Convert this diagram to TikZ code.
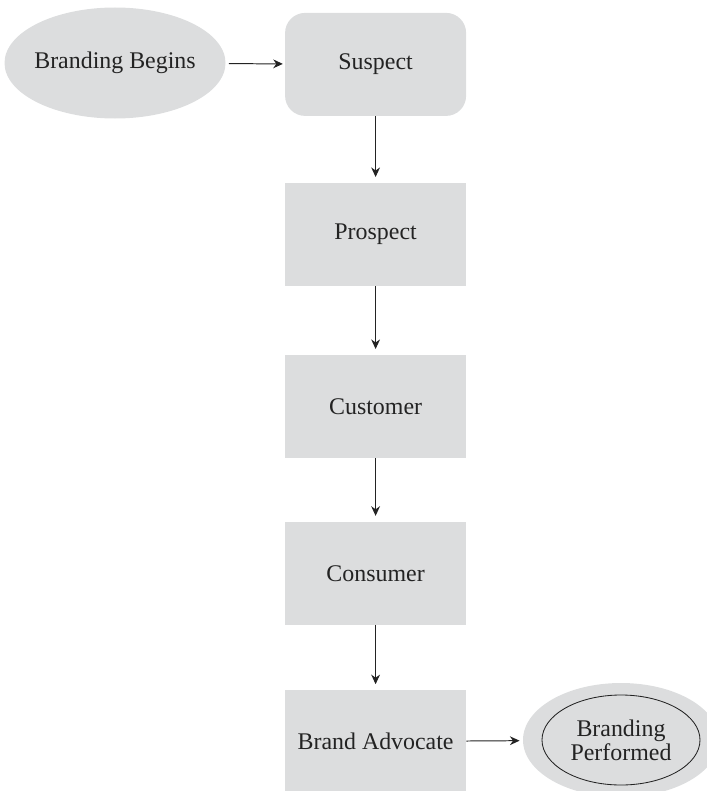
\documentclass[tikz,border=0pt]{standalone}
\usepackage{fontspec}
\setmainfont{Liberation Serif}
\usetikzlibrary{shapes.geometric, arrows.meta}
\definecolor{boxgray}{RGB}{220,221,222}
\definecolor{inkgray}{RGB}{35,35,35}
\tikzset{
    every node/.style={fill=boxgray, text=inkgray, align=center,
    	font=\fontsize{17}{17}\selectfont},
    stage/.style={rectangle, minimum width=4.525cm, minimum height=2.575cm},
    flow/.style={draw=inkgray, line width=0.7pt,
    	-{Stealth[length=2.4mm, width=2.2mm]}}
}

\begin{document}
\begin{tikzpicture}
  \useasboundingbox (0cm, 0cm) rectangle (17.675cm, -19.775cm);
  \node (begins) [ellipse, minimum width=5.525cm, minimum height=2.775cm, label=center:{Branding Begins}] at (2.875cm, -1.575cm) {};
  \node (suspect) [stage, rounded corners=0.5cm] at (9.39cm, -1.61cm) {Suspect};
  \node (prospect) [stage] at (9.39cm, -5.86cm) {Prospect};
  \node (customer) [stage] at (9.39cm, -10.16cm) {Customer};
  \node (consumer) [stage] at (9.39cm, -14.33cm) {Consumer};
  \node (advocate) [stage] at (9.39cm, -18.54cm) {Brand Advocate};
  \node (performed) [ellipse, minimum width=4.9cm, minimum height=2.85cm] at (15.525cm, -18.5cm) {};
  \node (performed_in) [ellipse, draw=inkgray, line width=0.6pt, minimum width=3.95cm, minimum height=2.25cm] at (15.525cm, -18.5cm) {Branding\\Performed};

  \draw (begins) edge [flow, shorten <=0.08cm, shorten >=0.05cm] (suspect);
  \draw (suspect) edge [flow, shorten >=0.14cm] (prospect);
  \draw (prospect) edge [flow, shorten >=0.14cm] (customer);
  \draw (customer) edge [flow, shorten >=0.14cm] (consumer);
  \draw (consumer) edge [flow, shorten >=0.14cm] (advocate);
  \draw (advocate) edge [flow, shorten >=0.08cm] (performed);
\end{tikzpicture}
\end{document}
